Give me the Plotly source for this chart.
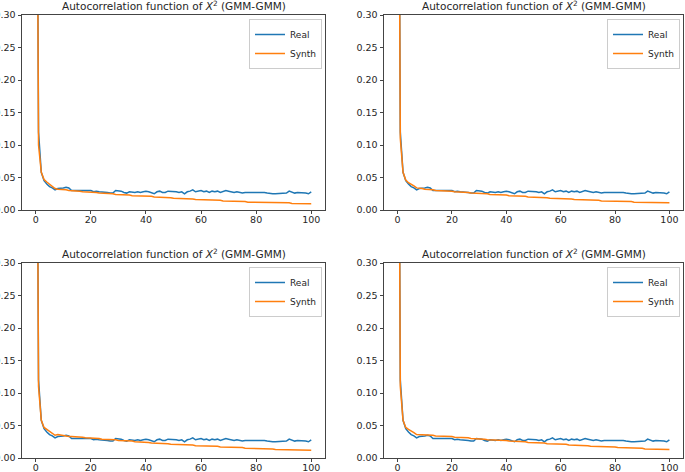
import plotly.graph_objects as go

lags = list(range(101))

real = [1.0, 0.12, 0.058, 0.045, 0.040, 0.036, 0.034, 0.031, 0.033, 0.033,
        0.034, 0.035, 0.034, 0.030, 0.030, 0.030, 0.029, 0.030, 0.029, 0.029,
        0.030, 0.028, 0.029, 0.028, 0.028, 0.027, 0.027, 0.026, 0.026, 0.030,
        0.030, 0.029, 0.027, 0.026, 0.028, 0.027, 0.027, 0.028, 0.027, 0.028,
        0.029, 0.028, 0.027, 0.025, 0.028, 0.029, 0.027, 0.027, 0.029, 0.029,
        0.028, 0.028, 0.027, 0.028, 0.025, 0.028, 0.029, 0.031, 0.028, 0.029,
        0.030, 0.028, 0.029, 0.027, 0.029, 0.028, 0.029, 0.027, 0.029, 0.030,
        0.029, 0.028, 0.027, 0.028, 0.027, 0.026, 0.027, 0.027, 0.028, 0.027,
        0.028, 0.027, 0.028, 0.027, 0.026, 0.025, 0.025, 0.025, 0.025, 0.025,
        0.026, 0.026, 0.029, 0.027, 0.026, 0.027, 0.027, 0.027, 0.026, 0.025,
        0.028]

synth_1 = [1.0, 0.10, 0.058, 0.047, 0.043, 0.040, 0.036, 0.033, 0.032, 0.032,
           0.031, 0.031, 0.030, 0.030, 0.029, 0.029, 0.029, 0.028, 0.028, 0.028,
           0.027, 0.027, 0.027, 0.026, 0.026, 0.026, 0.025, 0.025, 0.025, 0.024,
           0.024, 0.023, 0.023, 0.023, 0.023, 0.022, 0.022, 0.022, 0.022, 0.022,
           0.021, 0.021, 0.021, 0.020, 0.020, 0.020, 0.020, 0.019, 0.019, 0.019,
           0.018, 0.018, 0.018, 0.018, 0.017, 0.017, 0.017, 0.017, 0.016, 0.016,
           0.016, 0.016, 0.016, 0.015, 0.015, 0.015, 0.015, 0.015, 0.014, 0.014,
           0.014, 0.014, 0.013, 0.013, 0.013, 0.013, 0.013, 0.012, 0.012, 0.012,
           0.012, 0.012, 0.012, 0.011, 0.011, 0.011, 0.011, 0.011, 0.011, 0.011,
           0.011, 0.011, 0.011, 0.010, 0.010, 0.010, 0.010, 0.010, 0.010, 0.010,
           0.0098]

synth_2 = [1.0, 0.11, 0.058, 0.046, 0.042, 0.040, 0.037, 0.034, 0.034, 0.033,
           0.032, 0.032, 0.031, 0.031, 0.030, 0.030, 0.030, 0.029, 0.029, 0.029,
           0.029, 0.028, 0.028, 0.028, 0.027, 0.027, 0.027, 0.026, 0.026, 0.026,
           0.025, 0.025, 0.025, 0.025, 0.024, 0.024, 0.024, 0.024, 0.023, 0.023,
           0.023, 0.022, 0.022, 0.022, 0.021, 0.021, 0.021, 0.021, 0.020, 0.020,
           0.020, 0.020, 0.019, 0.019, 0.019, 0.019, 0.018, 0.018, 0.018, 0.018,
           0.018, 0.017, 0.017, 0.017, 0.017, 0.016, 0.016, 0.016, 0.016, 0.016,
           0.015, 0.015, 0.015, 0.015, 0.015, 0.014, 0.014, 0.014, 0.014, 0.014,
           0.014, 0.013, 0.013, 0.013, 0.013, 0.013, 0.013, 0.012, 0.012, 0.012,
           0.012, 0.012, 0.012, 0.012, 0.012, 0.011, 0.011, 0.011, 0.011, 0.011,
           0.011]

synth_3 = [1.0, 0.11, 0.058, 0.047, 0.044, 0.041, 0.037, 0.035, 0.036, 0.035,
           0.034, 0.034, 0.033, 0.033, 0.033, 0.032, 0.032, 0.032, 0.031, 0.031,
           0.031, 0.030, 0.030, 0.030, 0.029, 0.029, 0.029, 0.028, 0.028, 0.028,
           0.027, 0.027, 0.027, 0.026, 0.026, 0.026, 0.025, 0.025, 0.025, 0.024,
           0.024, 0.024, 0.023, 0.023, 0.023, 0.022, 0.022, 0.022, 0.022, 0.021,
           0.021, 0.021, 0.021, 0.020, 0.020, 0.020, 0.020, 0.020, 0.019, 0.019,
           0.019, 0.019, 0.019, 0.018, 0.018, 0.018, 0.018, 0.017, 0.017, 0.017,
           0.017, 0.017, 0.016, 0.016, 0.016, 0.016, 0.015, 0.015, 0.015, 0.015,
           0.015, 0.015, 0.014, 0.014, 0.014, 0.014, 0.014, 0.013, 0.013, 0.013,
           0.013, 0.013, 0.013, 0.013, 0.012, 0.012, 0.012, 0.012, 0.012, 0.012,
           0.012]

synth_4 = [1.0, 0.11, 0.058, 0.047, 0.044, 0.042, 0.039, 0.036, 0.036, 0.036,
           0.036, 0.035, 0.035, 0.035, 0.034, 0.034, 0.034, 0.033, 0.033, 0.033,
           0.033, 0.032, 0.032, 0.032, 0.031, 0.031, 0.031, 0.030, 0.030, 0.030,
           0.029, 0.029, 0.029, 0.028, 0.028, 0.028, 0.028, 0.027, 0.027, 0.027,
           0.027, 0.026, 0.026, 0.026, 0.025, 0.025, 0.025, 0.025, 0.024, 0.024,
           0.024, 0.023, 0.023, 0.023, 0.023, 0.022, 0.022, 0.022, 0.022, 0.021,
           0.021, 0.021, 0.021, 0.020, 0.020, 0.020, 0.020, 0.019, 0.019, 0.019,
           0.019, 0.018, 0.018, 0.018, 0.018, 0.018, 0.017, 0.017, 0.017, 0.017,
           0.017, 0.016, 0.016, 0.016, 0.016, 0.016, 0.015, 0.015, 0.015, 0.015,
           0.015, 0.014, 0.014, 0.014, 0.014, 0.014, 0.013, 0.013, 0.013, 0.013,
           0.013]

synths = [synth_1, synth_2, synth_3, synth_4]
title_text = "Autocorrelation function of <i>X</i><sup>2</sup> (GMM-GMM)"
x_ticks = [0, 20, 40, 60, 80, 100]
y_ticks = [0.0, 0.05, 0.10, 0.15, 0.20, 0.25, 0.30]

W, H = 685, 472
# panel pixel boxes: (left, right, top, bottom)
boxes = [(22, 325, 15, 210), (384, 683, 15, 210),
         (22, 325, 263, 458), (384, 683, 263, 458)]

BLUE = "#1f77b4"
ORANGE = "#ff7f0e"
FONT = "DejaVu Sans"

fig = go.Figure()
layout = dict(width=W, height=H, margin=dict(l=0, r=0, t=0, b=0, pad=0),
              autosize=False,
              paper_bgcolor="white", plot_bgcolor="white",
              font=dict(family=FONT, size=10, color="#262626"),
              annotations=[])

for i, (l, r, t, b) in enumerate(boxes):
    n = "" if i == 0 else str(i + 1)
    leg = "legend" if i == 0 else f"legend{i + 1}"
    fig.add_trace(go.Scatter(x=lags, y=real, mode="lines", name="Real",
                             line=dict(color=BLUE, width=1.5),
                             xaxis="x" + n, yaxis="y" + n, legend=leg))
    fig.add_trace(go.Scatter(x=lags, y=synths[i], mode="lines", name="Synth",
                             line=dict(color=ORANGE, width=1.5),
                             xaxis="x" + n, yaxis="y" + n, legend=leg))
    axstyle = dict(showline=True, linecolor="#444", linewidth=0.9, mirror=True,
                   showgrid=False, zeroline=False, ticks="outside", ticklen=3.5,
                   tickcolor="#444", tickwidth=0.9, automargin=False,
                   tickfont=dict(family=FONT, size=9.5, color="#262626"))
    layout["xaxis" + n] = dict(domain=[l / W, r / W], anchor="y" + n,
                               range=[-5, 105], tickvals=x_ticks,
                               ticklabelstandoff=-3, **axstyle)
    layout["yaxis" + n] = dict(domain=[1 - b / H, 1 - t / H], anchor="x" + n,
                               range=[0, 0.30], tickvals=y_ticks,
                               tickformat=".2f", **axstyle)
    layout[leg] = dict(x=(r - 3) / W, y=1 - (t + 4) / H, xanchor="right",
                       yanchor="top", bgcolor="rgba(255,255,255,0.8)",
                       bordercolor="#cccccc", borderwidth=1,
                       font=dict(family=FONT, size=9, color="#262626"),
                       itemwidth=30, tracegroupgap=0)
    layout["annotations"].append(dict(
        text=title_text, x=(l + r) / 2 / W, y=1 - (t - 1) / H,
        xref="paper", yref="paper", xanchor="center", yanchor="bottom",
        showarrow=False, font=dict(family=FONT, size=10.5, color="#262626")))

fig.update_layout(**layout)
fig.write_html("out.html",
               config={"displayModeBar": False},
               post_script="document.body.style.margin='0';"
                           "document.body.style.overflow='hidden';")
